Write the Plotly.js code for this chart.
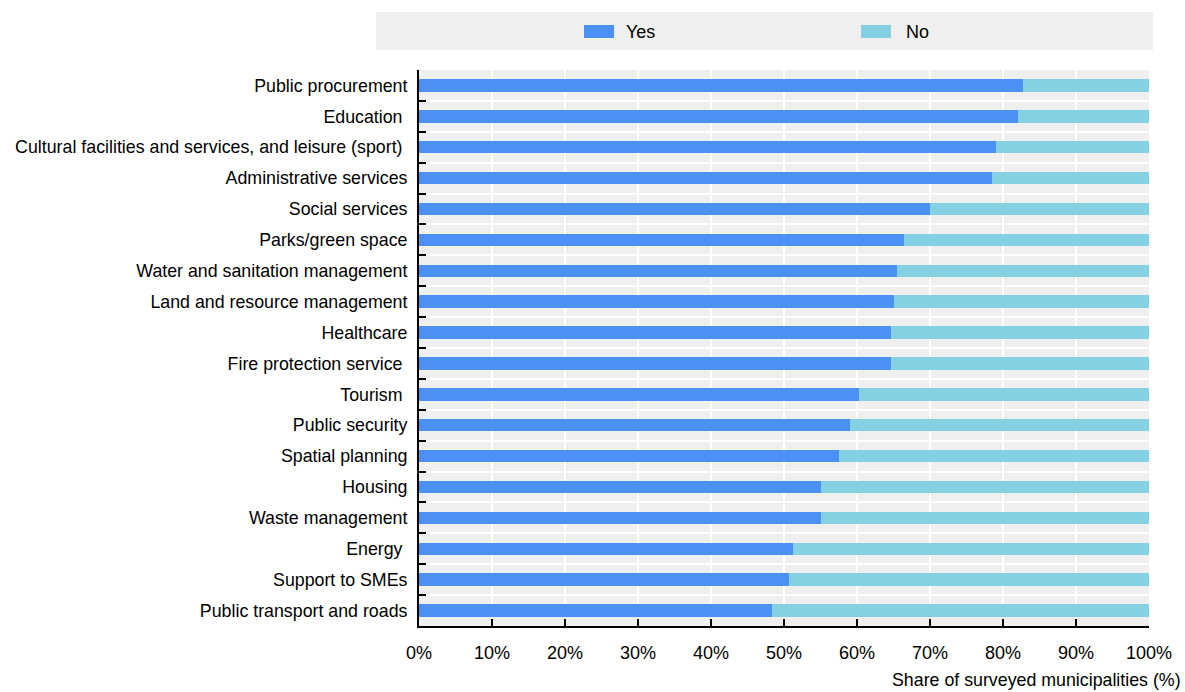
<!DOCTYPE html>
<html>
<head>
<meta charset="utf-8">
<script src="https://cdn.plot.ly/plotly-3.0.1.min.js"></script>
<style>html,body{margin:0;padding:0;background:#fff;}#chart{width:1185px;height:692px;}</style>
</head>
<body>
<div id="chart"></div>
<script>
const categories = [
  "Public procurement",
  "Education\u00a0",
  "Cultural facilities and services, and leisure (sport)\u00a0",
  "Administrative services",
  "Social services",
  "Parks/green space",
  "Water and sanitation management",
  "Land and resource management",
  "Healthcare",
  "Fire protection service\u00a0",
  "Tourism\u00a0",
  "Public security",
  "Spatial planning",
  "Housing",
  "Waste management",
  "Energy\u00a0",
  "Support to SMEs",
  "Public transport and roads"
];
const yesValues = [82.8, 82.1, 79.1, 78.5, 70.0, 66.5, 65.5, 65.1, 64.7, 64.6, 60.3, 59.1, 57.5, 55.1, 55.0, 51.2, 50.7, 48.3];
const noValues = yesValues.map(v => +(100 - v).toFixed(1));
const seriesNames = ["Yes", "No"];
const xTickVals = [0, 10, 20, 30, 40, 50, 60, 70, 80, 90, 100];
const xTickText = ["0%", "10%", "20%", "30%", "40%", "50%", "60%", "70%", "80%", "90%", "100%"];
const xAxisTitle = "Share of surveyed municipalities (%)";

const colors = ["#4a91f3", "#84d1e3"];
const FONT = "'Liberation Sans Narrow', 'Arial Narrow', 'Liberation Sans', Arial, sans-serif";

const traces = [
  {type: "bar", orientation: "h", name: seriesNames[0], y: categories, x: yesValues,
   marker: {color: colors[0], line: {width: 0}}, width: 0.4, showlegend: false, hoverinfo: "x+y"},
  {type: "bar", orientation: "h", name: seriesNames[1], y: categories, x: noValues,
   marker: {color: colors[1], line: {width: 0}}, width: 0.4, showlegend: false, hoverinfo: "x+y"}
];

// plot area in px
const L = 419, R = 1149, T = 70, B = 626;
const PW = R - L, PH = B - T;
const px = x => (x - L) / PW;
const py = y => (B - y) / PH;

const shapes = [
  {type: "rect", xref: "paper", yref: "paper", x0: px(376), x1: px(1153), y0: py(50), y1: py(12),
   fillcolor: "#efefef", line: {width: 0}, layer: "below"},
  {type: "rect", xref: "paper", yref: "paper", x0: px(584), x1: px(614), y0: py(38), y1: py(25),
   fillcolor: colors[0], line: {width: 0}},
  {type: "rect", xref: "paper", yref: "paper", x0: px(861), x1: px(891), y0: py(38), y1: py(25),
   fillcolor: colors[1], line: {width: 0}}
];

const annotations = [
  {xref: "paper", yref: "paper", x: px(624), y: py(31.5), xanchor: "left", yanchor: "middle",
   text: seriesNames[0], showarrow: false, font: {family: FONT, size: 18, color: "#000"}},
  {xref: "paper", yref: "paper", x: px(904), y: py(31.5), xanchor: "left", yanchor: "middle",
   text: seriesNames[1], showarrow: false, font: {family: FONT, size: 18, color: "#000"}},
  {xref: "paper", yref: "paper", x: px(1183), y: py(680), xanchor: "right", yanchor: "middle",
   text: xAxisTitle, showarrow: false, font: {family: FONT, size: 17.8, color: "#000"}}
];

const layout = {
  width: 1185, height: 692,
  margin: {l: L, r: 1185 - R, t: T, b: 692 - B, pad: 0},
  paper_bgcolor: "#ffffff",
  plot_bgcolor: "#efefef",
  barmode: "stack",
  showlegend: false,
  font: {family: FONT, size: 18, color: "#000"},
  xaxis: {
    range: [0, 100], tickvals: xTickVals, ticktext: xTickText,
    showgrid: true, gridcolor: "#ffffff", gridwidth: 2,
    zeroline: false, showline: true, linecolor: "#000", linewidth: 2,
    ticks: "inside", ticklen: 7, tickwidth: 2, tickcolor: "#000",
    ticklabelstandoff: 9,
    tickfont: {family: FONT, size: 18, color: "#000"}, fixedrange: true
  },
  yaxis: {
    type: "category", autorange: false, range: [categories.length - 0.5, -0.5],
    tickson: "boundaries", showgrid: true, gridcolor: "#ffffff", gridwidth: 2,
    showline: true, linecolor: "#000", linewidth: 2,
    ticks: "inside", ticklen: 7, tickwidth: 2, tickcolor: "#000",
    ticklabelstandoff: 6,
    tickfont: {family: FONT, size: 17.8, color: "#000"}, fixedrange: true
  },
  shapes: shapes,
  annotations: annotations
};

Plotly.newPlot("chart", traces, layout, {displayModeBar: false, staticPlot: true});
</script>
</body>
</html>
